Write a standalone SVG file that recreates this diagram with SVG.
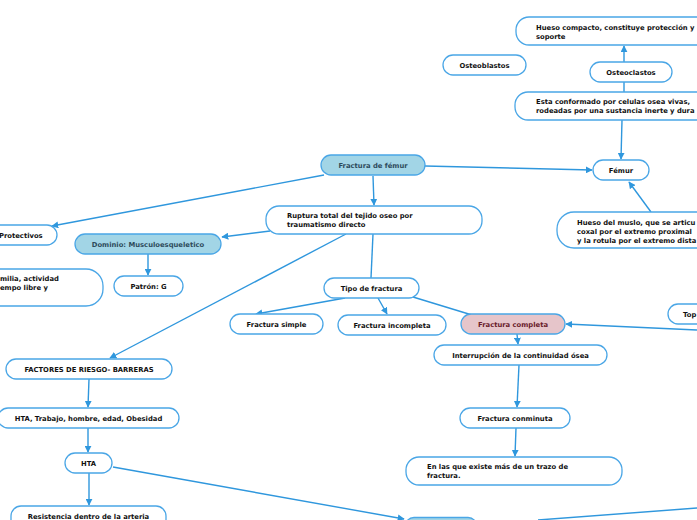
<svg xmlns="http://www.w3.org/2000/svg" width="697" height="520" viewBox="0 0 697 520">
<defs>
<marker id="ar" viewBox="0 0 10 10" refX="9" refY="5" markerWidth="7" markerHeight="7" markerUnits="userSpaceOnUse" orient="auto"><path d="M0,0 L10,5 L0,10 z" fill="#2f97dd"/></marker>
<style>
.n{fill:#fff;stroke:#4aa6e6;stroke-width:1.3}
.b{fill:#a2d5e6;stroke:#4aa6e6;stroke-width:1.3}
.p{fill:#e6c5ca;stroke:#4aa6e6;stroke-width:1.3}
text{font-family:"DejaVu Sans",Verdana,sans-serif;font-weight:bold;font-size:6.8px;fill:#111}
.c{text-anchor:middle}
.bt{fill:#2e4c5c}
.pt{fill:#6a1b2b}
#connectors line,#connectors path{stroke:#2f97dd;stroke-width:1.4;fill:none}
</style>
</defs>
<rect width="697" height="520" fill="#fff"/>
<g id="connectors">
<line x1="373" y1="176" x2="374" y2="205" marker-end="url(#ar)"/>
<line x1="425" y1="166" x2="592" y2="170" marker-end="url(#ar)"/>
<line x1="324" y1="175" x2="52" y2="226" marker-end="url(#ar)"/>
<line x1="622" y1="120" x2="621" y2="159" marker-end="url(#ar)"/>
<line x1="624" y1="92" x2="624" y2="46" marker-end="url(#ar)"/>
<line x1="651" y1="212" x2="629" y2="182" marker-end="url(#ar)"/>
<line x1="270" y1="231" x2="222" y2="237" marker-end="url(#ar)"/>
<line x1="148" y1="254" x2="148" y2="275" marker-end="url(#ar)"/>
<line x1="346" y1="234" x2="110" y2="358" marker-end="url(#ar)"/>
<line x1="373" y1="234" x2="371" y2="278"/>
<line x1="345" y1="298" x2="256" y2="314" marker-end="url(#ar)"/>
<line x1="378" y1="298" x2="387" y2="314" marker-end="url(#ar)"/>
<line x1="413" y1="297" x2="472" y2="315"/>
<line x1="697" y1="330" x2="566" y2="324" marker-end="url(#ar)"/>
<line x1="517" y1="334" x2="518" y2="344" marker-end="url(#ar)"/>
<line x1="519" y1="365" x2="517" y2="407" marker-end="url(#ar)"/>
<line x1="516" y1="428" x2="515" y2="456" marker-end="url(#ar)"/>
<line x1="89" y1="379" x2="88" y2="407" marker-end="url(#ar)"/>
<line x1="88" y1="428" x2="88" y2="452" marker-end="url(#ar)"/>
<line x1="89" y1="473" x2="89" y2="505" marker-end="url(#ar)"/>
<line x1="113" y1="467" x2="404" y2="519" marker-end="url(#ar)"/>
<line x1="697" y1="508" x2="538" y2="520"/>
</g>
<g id="n-hueso-compacto"><rect class="n" x="516" y="17" width="200" height="28" rx="13"/><text x="536" y="30">Hueso compacto, constituye protección y</text><text x="536" y="39">soporte</text></g>
<g id="n-osteoblastos"><rect class="n" x="443" y="55" width="83" height="20" rx="10"/><text class="c" x="484.5" y="68">Osteoblastos</text></g>
<g id="n-osteoclastos"><rect class="n" x="590" y="62" width="82" height="20" rx="10"/><text class="c" x="631" y="75">Osteoclastos</text></g>
<g id="n-esta"><rect class="n" x="515" y="92" width="200" height="28" rx="13"/><text x="536" y="104">Esta conformado por celulas osea vivas,</text><text x="536" y="113">rodeadas por una sustancia inerte y dura</text></g>
<g id="n-fractura-femur"><rect class="b" x="321" y="155" width="104" height="20" rx="10"/><text class="c bt" x="373" y="168">Fractura de fémur</text></g>
<g id="n-femur"><rect class="n" x="593" y="160" width="56" height="20" rx="10"/><text class="c" x="621" y="173">Fémur</text></g>
<g id="n-hueso-muslo"><rect class="n" x="557" y="212" width="160" height="36" rx="17"/><text x="577" y="225">Hueso del muslo, que se articu</text><text x="577" y="234">coxal por el extremo proximal</text><text x="577" y="243">y la rotula por el extremo dista</text></g>
<g id="n-protectivos"><rect class="n" x="-40" y="225" width="97" height="20" rx="10"/><text x="-1" y="238">Protectivos</text></g>
<g id="n-dominio"><rect class="b" x="75" y="234" width="146" height="20" rx="10"/><text class="c bt" x="148" y="247">Dominio: Musculoesqueletico</text></g>
<g id="n-ruptura"><rect class="n" x="266" y="206" width="216" height="28" rx="13"/><text x="287" y="218">Ruptura total del tejido oseo por</text><text x="287" y="227">traumatismo directo</text></g>
<g id="n-familia"><rect class="n" x="-60" y="269" width="163" height="37" rx="17"/><text x="0" y="281">milia, actividad</text><text x="0" y="290">empo libre y</text></g>
<g id="n-patron"><rect class="n" x="114" y="276" width="69" height="20" rx="10"/><text class="c" x="148.5" y="289">Patrón: G</text></g>
<g id="n-tipo"><rect class="n" x="324" y="278" width="95" height="20" rx="10"/><text class="c" x="371.5" y="291">Tipo de fractura</text></g>
<g id="n-simple"><rect class="n" x="230" y="314" width="93" height="20" rx="10"/><text class="c" x="276.5" y="327">Fractura simple</text></g>
<g id="n-incompleta"><rect class="n" x="338" y="315" width="108" height="20" rx="10"/><text class="c" x="392" y="328">Fractura incompleta</text></g>
<g id="n-completa"><rect class="p" x="461" y="314" width="104" height="20" rx="10"/><text class="c pt" x="513" y="327">Fractura completa</text></g>
<g id="n-top"><rect class="n" x="668" y="304" width="60" height="20" rx="10"/><text x="683" y="317">Top</text></g>
<g id="n-interrupcion"><rect class="n" x="434" y="345" width="173" height="20" rx="10"/><text class="c" x="520.5" y="358">Interrupción de la continuidad ósea</text></g>
<g id="n-factores"><rect class="n" x="6" y="359" width="166" height="20" rx="10"/><text class="c" x="89" y="372">FACTORES DE RIESGO- BARRERAS</text></g>
<g id="n-hta-trabajo"><rect class="n" x="-2" y="408" width="181" height="20" rx="10"/><text class="c" x="88.5" y="421">HTA, Trabajo, hombre, edad, Obesidad</text></g>
<g id="n-conminuta"><rect class="n" x="460" y="408" width="110" height="20" rx="10"/><text class="c" x="515" y="421">Fractura conminuta</text></g>
<g id="n-hta"><rect class="n" x="65" y="453" width="47" height="20" rx="10"/><text class="c" x="88.5" y="466">HTA</text></g>
<g id="n-en-las-que"><rect class="n" x="406" y="457" width="216" height="28" rx="13"/><text x="427" y="469">En las que existe más de un trazo de</text><text x="427" y="478">fractura.</text></g>
<g id="n-resistencia"><rect class="n" x="11" y="506" width="155" height="24" rx="10"/><text class="c" x="88.5" y="519">Resistencia dentro de la arteria</text></g>
<g id="n-bottom"><rect class="b" x="405" y="517.5" width="72" height="20" rx="9"/></g>
</svg>
